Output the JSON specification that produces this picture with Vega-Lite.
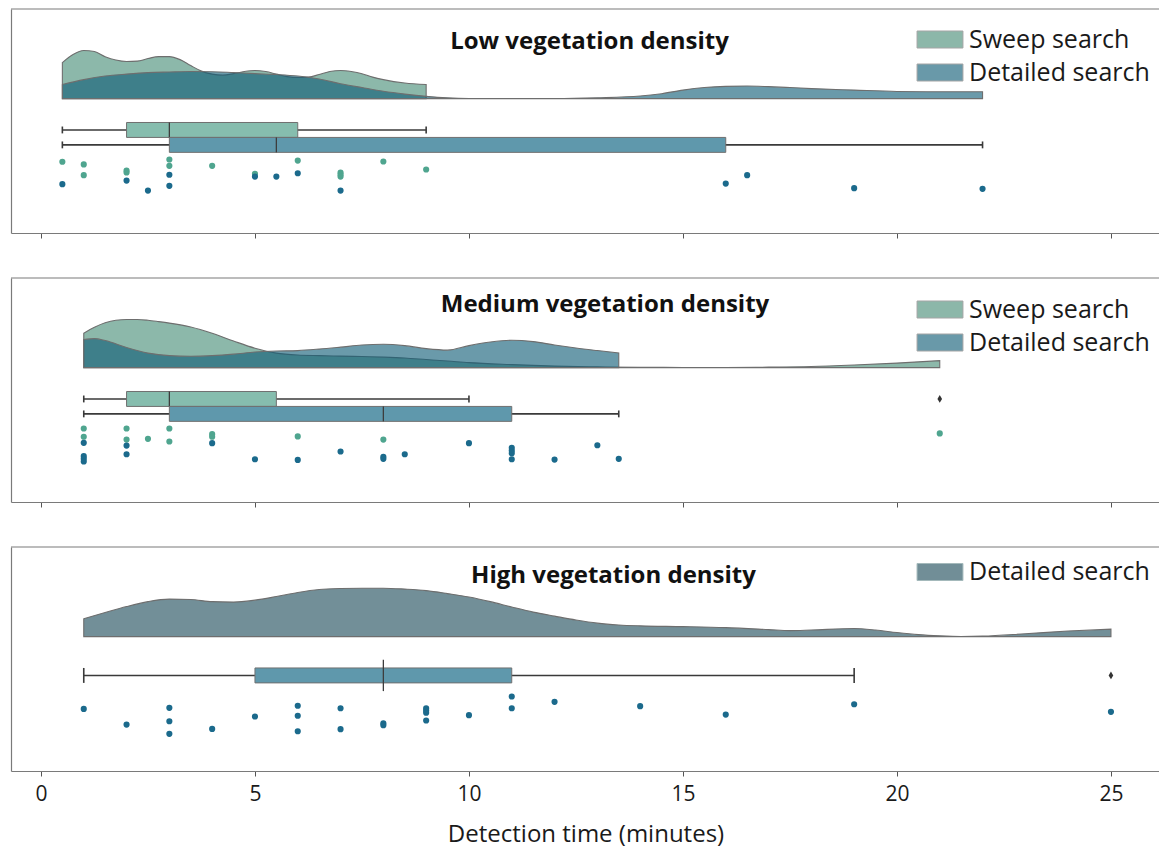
{
  "$schema": "https://vega.github.io/schema/vega-lite/v6.json",
  "padding": {"left": 10, "top": 8, "right": 0, "bottom": 6},
  "spacing": 45,
  "bounds": "flush",
  "config": {
    "font": "Open Sans",
    "view": {"stroke": null},
    "axis": {
      "grid": false,
      "domainColor": "#7a7a7a",
      "domainWidth": 1.2,
      "tickColor": "#555555",
      "tickWidth": 1,
      "tickSize": 5,
      "labelFont": "Open Sans",
      "labelFontSize": 21,
      "labelColor": "#1a1a1a",
      "titleFont": "Open Sans",
      "titleFontSize": 24,
      "titleFontWeight": "normal",
      "titleColor": "#1a1a1a"
    },
    "axisX": {"tickCount": 6},
    "axisY": {"labels": false, "ticks": false}
  },
  "resolve": {
    "scale": {"x": "independent", "y": "independent", "fill": "independent", "color": "independent"},
    "legend": {"fill": "independent", "color": "independent"}
  },
  "datasets": {
    "density": [
      {"veg": "Low", "method": "Sweep search", "t": 0.5, "density": 2.41},
      {"veg": "Low", "method": "Sweep search", "t": 0.75, "density": 2.95},
      {"veg": "Low", "method": "Sweep search", "t": 1, "density": 3.22},
      {"veg": "Low", "method": "Sweep search", "t": 1.25, "density": 3.15},
      {"veg": "Low", "method": "Sweep search", "t": 1.5, "density": 2.81},
      {"veg": "Low", "method": "Sweep search", "t": 1.75, "density": 2.58},
      {"veg": "Low", "method": "Sweep search", "t": 2, "density": 2.48},
      {"veg": "Low", "method": "Sweep search", "t": 2.25, "density": 2.51},
      {"veg": "Low", "method": "Sweep search", "t": 2.5, "density": 2.68},
      {"veg": "Low", "method": "Sweep search", "t": 2.75, "density": 2.81},
      {"veg": "Low", "method": "Sweep search", "t": 3, "density": 2.81},
      {"veg": "Low", "method": "Sweep search", "t": 3.25, "density": 2.61},
      {"veg": "Low", "method": "Sweep search", "t": 3.5, "density": 2.21},
      {"veg": "Low", "method": "Sweep search", "t": 3.75, "density": 1.84},
      {"veg": "Low", "method": "Sweep search", "t": 4, "density": 1.64},
      {"veg": "Low", "method": "Sweep search", "t": 4.25, "density": 1.57},
      {"veg": "Low", "method": "Sweep search", "t": 4.5, "density": 1.67},
      {"veg": "Low", "method": "Sweep search", "t": 4.75, "density": 1.81},
      {"veg": "Low", "method": "Sweep search", "t": 5, "density": 1.88},
      {"veg": "Low", "method": "Sweep search", "t": 5.25, "density": 1.81},
      {"veg": "Low", "method": "Sweep search", "t": 5.5, "density": 1.64},
      {"veg": "Low", "method": "Sweep search", "t": 5.75, "density": 1.47},
      {"veg": "Low", "method": "Sweep search", "t": 6, "density": 1.41},
      {"veg": "Low", "method": "Sweep search", "t": 6.25, "density": 1.44},
      {"veg": "Low", "method": "Sweep search", "t": 6.5, "density": 1.61},
      {"veg": "Low", "method": "Sweep search", "t": 6.75, "density": 1.81},
      {"veg": "Low", "method": "Sweep search", "t": 7, "density": 1.88},
      {"veg": "Low", "method": "Sweep search", "t": 7.25, "density": 1.81},
      {"veg": "Low", "method": "Sweep search", "t": 7.5, "density": 1.67},
      {"veg": "Low", "method": "Sweep search", "t": 7.75, "density": 1.44},
      {"veg": "Low", "method": "Sweep search", "t": 8, "density": 1.27},
      {"veg": "Low", "method": "Sweep search", "t": 8.5, "density": 1.04},
      {"veg": "Low", "method": "Sweep search", "t": 9, "density": 0.94},
      {"veg": "Low", "method": "Detailed search", "t": 0.5, "density": 0.94},
      {"veg": "Low", "method": "Detailed search", "t": 1, "density": 1.27},
      {"veg": "Low", "method": "Detailed search", "t": 1.5, "density": 1.51},
      {"veg": "Low", "method": "Detailed search", "t": 2, "density": 1.64},
      {"veg": "Low", "method": "Detailed search", "t": 2.5, "density": 1.74},
      {"veg": "Low", "method": "Detailed search", "t": 3, "density": 1.78},
      {"veg": "Low", "method": "Detailed search", "t": 3.5, "density": 1.81},
      {"veg": "Low", "method": "Detailed search", "t": 4, "density": 1.8},
      {"veg": "Low", "method": "Detailed search", "t": 4.5, "density": 1.74},
      {"veg": "Low", "method": "Detailed search", "t": 5, "density": 1.67},
      {"veg": "Low", "method": "Detailed search", "t": 5.5, "density": 1.61},
      {"veg": "Low", "method": "Detailed search", "t": 6, "density": 1.51},
      {"veg": "Low", "method": "Detailed search", "t": 6.5, "density": 1.31},
      {"veg": "Low", "method": "Detailed search", "t": 7, "density": 1.0},
      {"veg": "Low", "method": "Detailed search", "t": 7.5, "density": 0.74},
      {"veg": "Low", "method": "Detailed search", "t": 8, "density": 0.49},
      {"veg": "Low", "method": "Detailed search", "t": 8.5, "density": 0.3},
      {"veg": "Low", "method": "Detailed search", "t": 9, "density": 0.15},
      {"veg": "Low", "method": "Detailed search", "t": 9.5, "density": 0.05},
      {"veg": "Low", "method": "Detailed search", "t": 10, "density": 0.01},
      {"veg": "Low", "method": "Detailed search", "t": 11, "density": 0.0},
      {"veg": "Low", "method": "Detailed search", "t": 12, "density": 0.0},
      {"veg": "Low", "method": "Detailed search", "t": 13, "density": 0.05},
      {"veg": "Low", "method": "Detailed search", "t": 14, "density": 0.17},
      {"veg": "Low", "method": "Detailed search", "t": 14.5, "density": 0.33},
      {"veg": "Low", "method": "Detailed search", "t": 15, "density": 0.57},
      {"veg": "Low", "method": "Detailed search", "t": 15.5, "density": 0.74},
      {"veg": "Low", "method": "Detailed search", "t": 16, "density": 0.82},
      {"veg": "Low", "method": "Detailed search", "t": 16.5, "density": 0.84},
      {"veg": "Low", "method": "Detailed search", "t": 17, "density": 0.8},
      {"veg": "Low", "method": "Detailed search", "t": 17.5, "density": 0.74},
      {"veg": "Low", "method": "Detailed search", "t": 18, "density": 0.67},
      {"veg": "Low", "method": "Detailed search", "t": 19, "density": 0.57},
      {"veg": "Low", "method": "Detailed search", "t": 20, "density": 0.48},
      {"veg": "Low", "method": "Detailed search", "t": 21, "density": 0.46},
      {"veg": "Low", "method": "Detailed search", "t": 22, "density": 0.46},
      {"veg": "Medium", "method": "Sweep search", "t": 1, "density": 2.3},
      {"veg": "Medium", "method": "Sweep search", "t": 1.25, "density": 2.7},
      {"veg": "Medium", "method": "Sweep search", "t": 1.5, "density": 3.0},
      {"veg": "Medium", "method": "Sweep search", "t": 1.75, "density": 3.17},
      {"veg": "Medium", "method": "Sweep search", "t": 2, "density": 3.22},
      {"veg": "Medium", "method": "Sweep search", "t": 2.25, "density": 3.22},
      {"veg": "Medium", "method": "Sweep search", "t": 2.5, "density": 3.17},
      {"veg": "Medium", "method": "Sweep search", "t": 2.75, "density": 3.08},
      {"veg": "Medium", "method": "Sweep search", "t": 3, "density": 2.98},
      {"veg": "Medium", "method": "Sweep search", "t": 3.5, "density": 2.72},
      {"veg": "Medium", "method": "Sweep search", "t": 4, "density": 2.3},
      {"veg": "Medium", "method": "Sweep search", "t": 4.5, "density": 1.78},
      {"veg": "Medium", "method": "Sweep search", "t": 5, "density": 1.3},
      {"veg": "Medium", "method": "Sweep search", "t": 5.5, "density": 0.97},
      {"veg": "Medium", "method": "Sweep search", "t": 6, "density": 0.84},
      {"veg": "Medium", "method": "Sweep search", "t": 6.5, "density": 0.8},
      {"veg": "Medium", "method": "Sweep search", "t": 7, "density": 0.77},
      {"veg": "Medium", "method": "Sweep search", "t": 7.5, "density": 0.74},
      {"veg": "Medium", "method": "Sweep search", "t": 8, "density": 0.7},
      {"veg": "Medium", "method": "Sweep search", "t": 8.5, "density": 0.64},
      {"veg": "Medium", "method": "Sweep search", "t": 9, "density": 0.54},
      {"veg": "Medium", "method": "Sweep search", "t": 9.5, "density": 0.44},
      {"veg": "Medium", "method": "Sweep search", "t": 10, "density": 0.33},
      {"veg": "Medium", "method": "Sweep search", "t": 11, "density": 0.2},
      {"veg": "Medium", "method": "Sweep search", "t": 12, "density": 0.1},
      {"veg": "Medium", "method": "Sweep search", "t": 13, "density": 0.05},
      {"veg": "Medium", "method": "Sweep search", "t": 14, "density": 0.02},
      {"veg": "Medium", "method": "Sweep search", "t": 15, "density": 0.01},
      {"veg": "Medium", "method": "Sweep search", "t": 16, "density": 0.01},
      {"veg": "Medium", "method": "Sweep search", "t": 17, "density": 0.03},
      {"veg": "Medium", "method": "Sweep search", "t": 18, "density": 0.07},
      {"veg": "Medium", "method": "Sweep search", "t": 19, "density": 0.17},
      {"veg": "Medium", "method": "Sweep search", "t": 20, "density": 0.3},
      {"veg": "Medium", "method": "Sweep search", "t": 21, "density": 0.47},
      {"veg": "Medium", "method": "Detailed search", "t": 1, "density": 1.88},
      {"veg": "Medium", "method": "Detailed search", "t": 1.25, "density": 1.94},
      {"veg": "Medium", "method": "Detailed search", "t": 1.5, "density": 1.81},
      {"veg": "Medium", "method": "Detailed search", "t": 2, "density": 1.34},
      {"veg": "Medium", "method": "Detailed search", "t": 2.5, "density": 0.97},
      {"veg": "Medium", "method": "Detailed search", "t": 3, "density": 0.8},
      {"veg": "Medium", "method": "Detailed search", "t": 3.5, "density": 0.76},
      {"veg": "Medium", "method": "Detailed search", "t": 4, "density": 0.8},
      {"veg": "Medium", "method": "Detailed search", "t": 4.5, "density": 0.9},
      {"veg": "Medium", "method": "Detailed search", "t": 5, "density": 1.04},
      {"veg": "Medium", "method": "Detailed search", "t": 5.5, "density": 1.11},
      {"veg": "Medium", "method": "Detailed search", "t": 6, "density": 1.14},
      {"veg": "Medium", "method": "Detailed search", "t": 6.5, "density": 1.24},
      {"veg": "Medium", "method": "Detailed search", "t": 7, "density": 1.37},
      {"veg": "Medium", "method": "Detailed search", "t": 7.5, "density": 1.51},
      {"veg": "Medium", "method": "Detailed search", "t": 8, "density": 1.56},
      {"veg": "Medium", "method": "Detailed search", "t": 8.5, "density": 1.47},
      {"veg": "Medium", "method": "Detailed search", "t": 9, "density": 1.27},
      {"veg": "Medium", "method": "Detailed search", "t": 9.5, "density": 1.17},
      {"veg": "Medium", "method": "Detailed search", "t": 10, "density": 1.47},
      {"veg": "Medium", "method": "Detailed search", "t": 10.5, "density": 1.71},
      {"veg": "Medium", "method": "Detailed search", "t": 11, "density": 1.83},
      {"veg": "Medium", "method": "Detailed search", "t": 11.5, "density": 1.74},
      {"veg": "Medium", "method": "Detailed search", "t": 12, "density": 1.51},
      {"veg": "Medium", "method": "Detailed search", "t": 12.5, "density": 1.31},
      {"veg": "Medium", "method": "Detailed search", "t": 13, "density": 1.14},
      {"veg": "Medium", "method": "Detailed search", "t": 13.5, "density": 0.98},
      {"veg": "High", "method": "Detailed search", "t": 1, "density": 1.19},
      {"veg": "High", "method": "Detailed search", "t": 1.5, "density": 1.61},
      {"veg": "High", "method": "Detailed search", "t": 2, "density": 2.01},
      {"veg": "High", "method": "Detailed search", "t": 2.5, "density": 2.34},
      {"veg": "High", "method": "Detailed search", "t": 3, "density": 2.51},
      {"veg": "High", "method": "Detailed search", "t": 3.5, "density": 2.48},
      {"veg": "High", "method": "Detailed search", "t": 4, "density": 2.34},
      {"veg": "High", "method": "Detailed search", "t": 4.5, "density": 2.31},
      {"veg": "High", "method": "Detailed search", "t": 5, "density": 2.44},
      {"veg": "High", "method": "Detailed search", "t": 5.5, "density": 2.68},
      {"veg": "High", "method": "Detailed search", "t": 6, "density": 2.95},
      {"veg": "High", "method": "Detailed search", "t": 6.5, "density": 3.15},
      {"veg": "High", "method": "Detailed search", "t": 7, "density": 3.22},
      {"veg": "High", "method": "Detailed search", "t": 7.5, "density": 3.24},
      {"veg": "High", "method": "Detailed search", "t": 8, "density": 3.24},
      {"veg": "High", "method": "Detailed search", "t": 8.5, "density": 3.18},
      {"veg": "High", "method": "Detailed search", "t": 9, "density": 3.08},
      {"veg": "High", "method": "Detailed search", "t": 9.5, "density": 2.88},
      {"veg": "High", "method": "Detailed search", "t": 10, "density": 2.65},
      {"veg": "High", "method": "Detailed search", "t": 10.5, "density": 2.34},
      {"veg": "High", "method": "Detailed search", "t": 11, "density": 1.98},
      {"veg": "High", "method": "Detailed search", "t": 11.5, "density": 1.64},
      {"veg": "High", "method": "Detailed search", "t": 12, "density": 1.37},
      {"veg": "High", "method": "Detailed search", "t": 12.5, "density": 1.11},
      {"veg": "High", "method": "Detailed search", "t": 13, "density": 0.9},
      {"veg": "High", "method": "Detailed search", "t": 13.5, "density": 0.78},
      {"veg": "High", "method": "Detailed search", "t": 14, "density": 0.72},
      {"veg": "High", "method": "Detailed search", "t": 15, "density": 0.67},
      {"veg": "High", "method": "Detailed search", "t": 16, "density": 0.6},
      {"veg": "High", "method": "Detailed search", "t": 17, "density": 0.47},
      {"veg": "High", "method": "Detailed search", "t": 17.5, "density": 0.4},
      {"veg": "High", "method": "Detailed search", "t": 18, "density": 0.44},
      {"veg": "High", "method": "Detailed search", "t": 19, "density": 0.54},
      {"veg": "High", "method": "Detailed search", "t": 19.5, "density": 0.44},
      {"veg": "High", "method": "Detailed search", "t": 20, "density": 0.27},
      {"veg": "High", "method": "Detailed search", "t": 20.5, "density": 0.13},
      {"veg": "High", "method": "Detailed search", "t": 21, "density": 0.05},
      {"veg": "High", "method": "Detailed search", "t": 21.5, "density": 0.01},
      {"veg": "High", "method": "Detailed search", "t": 22, "density": 0.03},
      {"veg": "High", "method": "Detailed search", "t": 23, "density": 0.19},
      {"veg": "High", "method": "Detailed search", "t": 24, "density": 0.37},
      {"veg": "High", "method": "Detailed search", "t": 25, "density": 0.5}
    ],
    "boxes": [
      {"veg": "Low", "method": "Sweep search", "lo": 0.5, "q1": 2, "med": 3, "q3": 6, "hi": 9},
      {"veg": "Low", "method": "Detailed search", "lo": 0.5, "q1": 3, "med": 5.5, "q3": 16, "hi": 22},
      {"veg": "Medium", "method": "Sweep search", "lo": 1, "q1": 2, "med": 3, "q3": 5.5, "hi": 10},
      {"veg": "Medium", "method": "Detailed search", "lo": 1, "q1": 3, "med": 8, "q3": 11, "hi": 13.5},
      {"veg": "High", "method": "Detailed search", "lo": 1, "q1": 5, "med": 8, "q3": 11, "hi": 19}
    ],
    "outliers": [
      {"veg": "Medium", "method": "Sweep search", "time": 21},
      {"veg": "High", "method": "Detailed search", "time": 25}
    ],
    "points": [
      {"veg": "Low", "method": "Sweep search", "time": 0.5, "jitter": -4.23},
      {"veg": "Low", "method": "Sweep search", "time": 1, "jitter": -4.41},
      {"veg": "Low", "method": "Sweep search", "time": 1, "jitter": -5.13},
      {"veg": "Low", "method": "Sweep search", "time": 2, "jitter": -4.82},
      {"veg": "Low", "method": "Sweep search", "time": 2, "jitter": -4.95},
      {"veg": "Low", "method": "Sweep search", "time": 3, "jitter": -4.08},
      {"veg": "Low", "method": "Sweep search", "time": 3, "jitter": -4.5},
      {"veg": "Low", "method": "Sweep search", "time": 4, "jitter": -4.5},
      {"veg": "Low", "method": "Sweep search", "time": 5, "jitter": -5.04},
      {"veg": "Low", "method": "Sweep search", "time": 6, "jitter": -4.15},
      {"veg": "Low", "method": "Sweep search", "time": 7, "jitter": -4.95},
      {"veg": "Low", "method": "Sweep search", "time": 7, "jitter": -5.08},
      {"veg": "Low", "method": "Sweep search", "time": 7, "jitter": -5.22},
      {"veg": "Low", "method": "Sweep search", "time": 8, "jitter": -4.21},
      {"veg": "Low", "method": "Sweep search", "time": 9, "jitter": -4.75},
      {"veg": "Low", "method": "Detailed search", "time": 0.5, "jitter": -5.73},
      {"veg": "Low", "method": "Detailed search", "time": 2, "jitter": -5.49},
      {"veg": "Low", "method": "Detailed search", "time": 2.5, "jitter": -6.16},
      {"veg": "Low", "method": "Detailed search", "time": 3, "jitter": -5.1},
      {"veg": "Low", "method": "Detailed search", "time": 3, "jitter": -5.84},
      {"veg": "Low", "method": "Detailed search", "time": 5, "jitter": -5.22},
      {"veg": "Low", "method": "Detailed search", "time": 5.5, "jitter": -5.22},
      {"veg": "Low", "method": "Detailed search", "time": 6, "jitter": -5.0},
      {"veg": "Low", "method": "Detailed search", "time": 7, "jitter": -6.16},
      {"veg": "Low", "method": "Detailed search", "time": 16, "jitter": -5.69},
      {"veg": "Low", "method": "Detailed search", "time": 16.5, "jitter": -5.13},
      {"veg": "Low", "method": "Detailed search", "time": 19, "jitter": -6.0},
      {"veg": "Low", "method": "Detailed search", "time": 22, "jitter": -6.04},
      {"veg": "Medium", "method": "Sweep search", "time": 1, "jitter": -4.08},
      {"veg": "Medium", "method": "Sweep search", "time": 1, "jitter": -4.63},
      {"veg": "Medium", "method": "Sweep search", "time": 2, "jitter": -4.08},
      {"veg": "Medium", "method": "Sweep search", "time": 2, "jitter": -4.82},
      {"veg": "Medium", "method": "Sweep search", "time": 2.5, "jitter": -4.77},
      {"veg": "Medium", "method": "Sweep search", "time": 3, "jitter": -4.08},
      {"veg": "Medium", "method": "Sweep search", "time": 3, "jitter": -4.95},
      {"veg": "Medium", "method": "Sweep search", "time": 4, "jitter": -4.46},
      {"veg": "Medium", "method": "Sweep search", "time": 4, "jitter": -4.63},
      {"veg": "Medium", "method": "Sweep search", "time": 6, "jitter": -4.61},
      {"veg": "Medium", "method": "Sweep search", "time": 8, "jitter": -4.82},
      {"veg": "Medium", "method": "Sweep search", "time": 21, "jitter": -4.41},
      {"veg": "Medium", "method": "Detailed search", "time": 1, "jitter": -5.04},
      {"veg": "Medium", "method": "Detailed search", "time": 1, "jitter": -5.93},
      {"veg": "Medium", "method": "Detailed search", "time": 1, "jitter": -6.11},
      {"veg": "Medium", "method": "Detailed search", "time": 1, "jitter": -6.29},
      {"veg": "Medium", "method": "Detailed search", "time": 2, "jitter": -5.22},
      {"veg": "Medium", "method": "Detailed search", "time": 2, "jitter": -5.8},
      {"veg": "Medium", "method": "Detailed search", "time": 4, "jitter": -5.06},
      {"veg": "Medium", "method": "Detailed search", "time": 5, "jitter": -6.14},
      {"veg": "Medium", "method": "Detailed search", "time": 6, "jitter": -6.18},
      {"veg": "Medium", "method": "Detailed search", "time": 7, "jitter": -5.62},
      {"veg": "Medium", "method": "Detailed search", "time": 8, "jitter": -5.97},
      {"veg": "Medium", "method": "Detailed search", "time": 8, "jitter": -6.11},
      {"veg": "Medium", "method": "Detailed search", "time": 8.5, "jitter": -5.8},
      {"veg": "Medium", "method": "Detailed search", "time": 10, "jitter": -5.06},
      {"veg": "Medium", "method": "Detailed search", "time": 11, "jitter": -5.37},
      {"veg": "Medium", "method": "Detailed search", "time": 11, "jitter": -5.55},
      {"veg": "Medium", "method": "Detailed search", "time": 11, "jitter": -5.73},
      {"veg": "Medium", "method": "Detailed search", "time": 11, "jitter": -6.14},
      {"veg": "Medium", "method": "Detailed search", "time": 12, "jitter": -6.16},
      {"veg": "Medium", "method": "Detailed search", "time": 13, "jitter": -5.2},
      {"veg": "Medium", "method": "Detailed search", "time": 13.5, "jitter": -6.11},
      {"veg": "High", "method": "Detailed search", "time": 1, "jitter": -4.84},
      {"veg": "High", "method": "Detailed search", "time": 2, "jitter": -5.89},
      {"veg": "High", "method": "Detailed search", "time": 3, "jitter": -4.77},
      {"veg": "High", "method": "Detailed search", "time": 3, "jitter": -5.67},
      {"veg": "High", "method": "Detailed search", "time": 3, "jitter": -6.51},
      {"veg": "High", "method": "Detailed search", "time": 4, "jitter": -6.18},
      {"veg": "High", "method": "Detailed search", "time": 5, "jitter": -5.35},
      {"veg": "High", "method": "Detailed search", "time": 6, "jitter": -4.63},
      {"veg": "High", "method": "Detailed search", "time": 6, "jitter": -5.3},
      {"veg": "High", "method": "Detailed search", "time": 6, "jitter": -6.34},
      {"veg": "High", "method": "Detailed search", "time": 7, "jitter": -4.8},
      {"veg": "High", "method": "Detailed search", "time": 7, "jitter": -6.2},
      {"veg": "High", "method": "Detailed search", "time": 8, "jitter": -5.8},
      {"veg": "High", "method": "Detailed search", "time": 8, "jitter": -5.93},
      {"veg": "High", "method": "Detailed search", "time": 9, "jitter": -4.8},
      {"veg": "High", "method": "Detailed search", "time": 9, "jitter": -4.95},
      {"veg": "High", "method": "Detailed search", "time": 9, "jitter": -5.1},
      {"veg": "High", "method": "Detailed search", "time": 9, "jitter": -5.62},
      {"veg": "High", "method": "Detailed search", "time": 10, "jitter": -5.26},
      {"veg": "High", "method": "Detailed search", "time": 11, "jitter": -4.01},
      {"veg": "High", "method": "Detailed search", "time": 11, "jitter": -4.8},
      {"veg": "High", "method": "Detailed search", "time": 12, "jitter": -4.37},
      {"veg": "High", "method": "Detailed search", "time": 14, "jitter": -4.66},
      {"veg": "High", "method": "Detailed search", "time": 16, "jitter": -5.22},
      {"veg": "High", "method": "Detailed search", "time": 19, "jitter": -4.53},
      {"veg": "High", "method": "Detailed search", "time": 25, "jitter": -5.04}
    ]
  },
  "vconcat": [
    {
      "width": 1149,
      "height": 224,
      "title": {"text": "Low vegetation density", "anchor": "middle", "frame": "group", "orient": "top", "offset": -58, "baseline": "middle", "dx": 4, "fontSize": 24, "fontWeight": "bold", "font": "Open Sans", "color": "#111111"},
      "layer": [
        {
          "data": {"name": "density"},
          "transform": [{"filter": "datum.veg === 'Low' && datum.method === 'Sweep search'"}],
          "mark": {"type": "area", "interpolate": "monotone", "fillOpacity": 0.62, "stroke": "#6e6e6e", "strokeWidth": 1.1},
          "encoding": {
            "x": {"field": "t", "type": "quantitative", "title": null, "scale": {"domain": [-0.7, 26.146], "nice": false, "zero": false}, "axis": {"labels": false, "values": [0, 5, 10, 15, 20, 25]}},
            "y": {"field": "density", "type": "quantitative", "title": null, "scale": {"domain": [-9, 6], "nice": false, "zero": false}},
            "y2": {"datum": 0},
            "fill": {"field": "method", "type": "nominal", "scale": {"domain": ["Sweep search", "Detailed search"], "range": ["#468c76", "#0f5c76"]},
              "legend": {"orient": "none", "legendX": 916.5, "legendY": 18, "title": null, "symbolType": "M-2.7,-1H2.7V1H-2.7Z", "symbolSize": 289, "symbolOpacity": 0.62, "symbolStrokeColor": "#6e8f92", "symbolStrokeWidth": 1, "labelFont": "Open Sans", "labelFontSize": 25, "labelColor": "#1a1a1a", "labelOffset": 16.5, "labelLimit": 400, "rowPadding": 7, "padding": 0}}
          }
        },
        {
          "data": {"name": "density"},
          "transform": [{"filter": "datum.veg === 'Low' && datum.method === 'Detailed search'"}],
          "mark": {"type": "area", "interpolate": "monotone", "fillOpacity": 0.62, "stroke": "#6e6e6e", "strokeWidth": 1.1},
          "encoding": {
            "x": {"field": "t", "type": "quantitative", "title": null},
            "y": {"field": "density", "type": "quantitative", "title": null},
            "y2": {"datum": 0},
            "fill": {"field": "method", "type": "nominal"}
          }
        },
        {
          "data": {"values": [{}]},
          "mark": {"type": "rule", "color": "#7a7a7a", "strokeWidth": 1.2},
          "encoding": {"x": {"datum": -0.7, "title": null}, "x2": {"datum": 26.146}, "y": {"datum": 6, "title": null}}
        },
        {
          "data": {"name": "boxes"},
          "transform": [{"filter": "datum.veg === 'Low' && datum.method === 'Sweep search'"}],
          "layer": [
            {"mark": {"type": "rule", "color": "#3a3a3a", "strokeWidth": 1.6}, "encoding": {"x": {"field": "lo", "type": "quantitative", "title": null}, "x2": {"field": "hi"}, "y": {"datum": -2.1, "title": null}}},
            {"transform": [{"fold": ["lo", "hi"], "as": ["end", "v"]}], "mark": {"type": "rule", "color": "#3a3a3a", "strokeWidth": 1.6}, "encoding": {"x": {"field": "v", "type": "quantitative", "title": null}, "y": {"datum": -1.87, "title": null}, "y2": {"datum": -2.33}}},
            {"mark": {"type": "rect", "fill": "#86bdae", "stroke": "#707070", "strokeWidth": 1}, "encoding": {"x": {"field": "q1", "type": "quantitative", "title": null}, "x2": {"field": "q3"}, "y": {"datum": -1.6, "title": null}, "y2": {"datum": -2.6}}},
            {"mark": {"type": "rule", "color": "#3d3d3d", "strokeWidth": 1.3}, "encoding": {"x": {"field": "med", "type": "quantitative", "title": null}, "y": {"datum": -1.6, "title": null}, "y2": {"datum": -2.6}}}
          ]
        },
        {
          "data": {"name": "boxes"},
          "transform": [{"filter": "datum.veg === 'Low' && datum.method === 'Detailed search'"}],
          "layer": [
            {"mark": {"type": "rule", "color": "#3a3a3a", "strokeWidth": 1.6}, "encoding": {"x": {"field": "lo", "type": "quantitative", "title": null}, "x2": {"field": "hi"}, "y": {"datum": -3.1, "title": null}}},
            {"transform": [{"fold": ["lo", "hi"], "as": ["end", "v"]}], "mark": {"type": "rule", "color": "#3a3a3a", "strokeWidth": 1.6}, "encoding": {"x": {"field": "v", "type": "quantitative", "title": null}, "y": {"datum": -2.87, "title": null}, "y2": {"datum": -3.33}}},
            {"mark": {"type": "rect", "fill": "#5f98ac", "stroke": "#707070", "strokeWidth": 1}, "encoding": {"x": {"field": "q1", "type": "quantitative", "title": null}, "x2": {"field": "q3"}, "y": {"datum": -2.6, "title": null}, "y2": {"datum": -3.6}}},
            {"mark": {"type": "rule", "color": "#3d3d3d", "strokeWidth": 1.3}, "encoding": {"x": {"field": "med", "type": "quantitative", "title": null}, "y": {"datum": -2.6, "title": null}, "y2": {"datum": -3.6}}}
          ]
        },
        {
          "data": {"name": "points"},
          "transform": [{"filter": "datum.veg === 'Low'"}],
          "mark": {"type": "circle", "size": 38, "opacity": 1},
          "encoding": {
            "x": {"field": "time", "type": "quantitative", "title": null},
            "y": {"field": "jitter", "type": "quantitative", "title": null},
            "color": {"field": "method", "type": "nominal", "scale": {"domain": ["Sweep search", "Detailed search"], "range": ["#4fa58f", "#1b6a8c"]}, "legend": null}
          }
        }
      ]
    },
    {
      "width": 1149,
      "height": 224,
      "title": {"text": "Medium vegetation density", "anchor": "middle", "frame": "group", "orient": "top", "offset": -52, "baseline": "middle", "dx": 19.5, "fontSize": 24, "fontWeight": "bold", "font": "Open Sans", "color": "#111111"},
      "layer": [
        {
          "data": {"name": "density"},
          "transform": [{"filter": "datum.veg === 'Medium' && datum.method === 'Sweep search'"}],
          "mark": {"type": "area", "interpolate": "monotone", "fillOpacity": 0.62, "stroke": "#6e6e6e", "strokeWidth": 1.1},
          "encoding": {
            "x": {"field": "t", "type": "quantitative", "title": null, "scale": {"domain": [-0.7, 26.146], "nice": false, "zero": false}, "axis": {"labels": false, "values": [0, 5, 10, 15, 20, 25]}},
            "y": {"field": "density", "type": "quantitative", "title": null, "scale": {"domain": [-9, 6], "nice": false, "zero": false}},
            "y2": {"datum": 0},
            "fill": {"field": "method", "type": "nominal", "scale": {"domain": ["Sweep search", "Detailed search"], "range": ["#468c76", "#0f5c76"]},
              "legend": {"orient": "none", "legendX": 916.5, "legendY": 19, "title": null, "symbolType": "M-2.7,-1H2.7V1H-2.7Z", "symbolSize": 289, "symbolOpacity": 0.62, "symbolStrokeColor": "#6e8f92", "symbolStrokeWidth": 1, "labelFont": "Open Sans", "labelFontSize": 25, "labelColor": "#1a1a1a", "labelOffset": 16.5, "labelLimit": 400, "rowPadding": 7, "padding": 0}}
          }
        },
        {
          "data": {"name": "density"},
          "transform": [{"filter": "datum.veg === 'Medium' && datum.method === 'Detailed search'"}],
          "mark": {"type": "area", "interpolate": "monotone", "fillOpacity": 0.62, "stroke": "#6e6e6e", "strokeWidth": 1.1},
          "encoding": {
            "x": {"field": "t", "type": "quantitative", "title": null},
            "y": {"field": "density", "type": "quantitative", "title": null},
            "y2": {"datum": 0},
            "fill": {"field": "method", "type": "nominal"}
          }
        },
        {
          "data": {"values": [{}]},
          "mark": {"type": "rule", "color": "#7a7a7a", "strokeWidth": 1.2},
          "encoding": {"x": {"datum": -0.7, "title": null}, "x2": {"datum": 26.146}, "y": {"datum": 6, "title": null}}
        },
        {
          "data": {"name": "boxes"},
          "transform": [{"filter": "datum.veg === 'Medium' && datum.method === 'Sweep search'"}],
          "layer": [
            {"mark": {"type": "rule", "color": "#3a3a3a", "strokeWidth": 1.6}, "encoding": {"x": {"field": "lo", "type": "quantitative", "title": null}, "x2": {"field": "hi"}, "y": {"datum": -2.1, "title": null}}},
            {"transform": [{"fold": ["lo", "hi"], "as": ["end", "v"]}], "mark": {"type": "rule", "color": "#3a3a3a", "strokeWidth": 1.6}, "encoding": {"x": {"field": "v", "type": "quantitative", "title": null}, "y": {"datum": -1.87, "title": null}, "y2": {"datum": -2.33}}},
            {"mark": {"type": "rect", "fill": "#86bdae", "stroke": "#707070", "strokeWidth": 1}, "encoding": {"x": {"field": "q1", "type": "quantitative", "title": null}, "x2": {"field": "q3"}, "y": {"datum": -1.6, "title": null}, "y2": {"datum": -2.6}}},
            {"mark": {"type": "rule", "color": "#3d3d3d", "strokeWidth": 1.3}, "encoding": {"x": {"field": "med", "type": "quantitative", "title": null}, "y": {"datum": -1.6, "title": null}, "y2": {"datum": -2.6}}}
          ]
        },
        {
          "data": {"name": "boxes"},
          "transform": [{"filter": "datum.veg === 'Medium' && datum.method === 'Detailed search'"}],
          "layer": [
            {"mark": {"type": "rule", "color": "#3a3a3a", "strokeWidth": 1.6}, "encoding": {"x": {"field": "lo", "type": "quantitative", "title": null}, "x2": {"field": "hi"}, "y": {"datum": -3.1, "title": null}}},
            {"transform": [{"fold": ["lo", "hi"], "as": ["end", "v"]}], "mark": {"type": "rule", "color": "#3a3a3a", "strokeWidth": 1.6}, "encoding": {"x": {"field": "v", "type": "quantitative", "title": null}, "y": {"datum": -2.87, "title": null}, "y2": {"datum": -3.33}}},
            {"mark": {"type": "rect", "fill": "#5f98ac", "stroke": "#707070", "strokeWidth": 1}, "encoding": {"x": {"field": "q1", "type": "quantitative", "title": null}, "x2": {"field": "q3"}, "y": {"datum": -2.6, "title": null}, "y2": {"datum": -3.6}}},
            {"mark": {"type": "rule", "color": "#3d3d3d", "strokeWidth": 1.3}, "encoding": {"x": {"field": "med", "type": "quantitative", "title": null}, "y": {"datum": -2.6, "title": null}, "y2": {"datum": -3.6}}}
          ]
        },
        {
          "data": {"name": "outliers"},
          "transform": [{"filter": "datum.veg === 'Medium'"}],
          "mark": {"type": "point", "shape": "M0,-1L0.6,0L0,1L-0.6,0Z", "filled": true, "size": 60, "color": "#333333", "opacity": 1},
          "encoding": {"x": {"field": "time", "type": "quantitative", "title": null}, "y": {"datum": -2.1, "title": null}}
        },
        {
          "data": {"name": "points"},
          "transform": [{"filter": "datum.veg === 'Medium'"}],
          "mark": {"type": "circle", "size": 38, "opacity": 1},
          "encoding": {
            "x": {"field": "time", "type": "quantitative", "title": null},
            "y": {"field": "jitter", "type": "quantitative", "title": null},
            "color": {"field": "method", "type": "nominal", "scale": {"domain": ["Sweep search", "Detailed search"], "range": ["#4fa58f", "#1b6a8c"]}, "legend": null}
          }
        }
      ]
    },
    {
      "width": 1149,
      "height": 224,
      "title": {"text": "High vegetation density", "anchor": "middle", "frame": "group", "orient": "top", "offset": -54, "baseline": "middle", "dx": 28, "fontSize": 24, "fontWeight": "bold", "font": "Open Sans", "color": "#111111"},
      "layer": [
        {
          "data": {"name": "density"},
          "transform": [{"filter": "datum.veg === 'High'"}],
          "mark": {"type": "area", "interpolate": "monotone", "fillOpacity": 0.62, "stroke": "#6e6e6e", "strokeWidth": 1.1},
          "encoding": {
            "x": {"field": "t", "type": "quantitative", "title": "Detection time (minutes)", "scale": {"domain": [-0.7, 26.146], "nice": false, "zero": false}, "axis": {"values": [0, 5, 10, 15, 20, 25], "labelPadding": 7, "titlePadding": 18}},
            "y": {"field": "density", "type": "quantitative", "title": null, "scale": {"domain": [-9, 6], "nice": false, "zero": false}},
            "y2": {"datum": 0},
            "fill": {"field": "method", "type": "nominal", "scale": {"domain": ["Detailed search"], "range": ["#1b4a59"]},
              "legend": {"orient": "none", "legendX": 916.5, "legendY": 12.5, "title": null, "symbolType": "M-2.7,-1H2.7V1H-2.7Z", "symbolSize": 289, "symbolOpacity": 0.62, "symbolStrokeColor": "#6e8f92", "symbolStrokeWidth": 1, "labelFont": "Open Sans", "labelFontSize": 25, "labelColor": "#1a1a1a", "labelOffset": 16.5, "labelLimit": 400, "rowPadding": 7, "padding": 0}}
          }
        },
        {
          "data": {"values": [{}]},
          "mark": {"type": "rule", "color": "#7a7a7a", "strokeWidth": 1.2},
          "encoding": {"x": {"datum": -0.7, "title": "Detection time (minutes)"}, "x2": {"datum": 26.146}, "y": {"datum": 6, "title": null}}
        },
        {
          "data": {"name": "boxes"},
          "transform": [{"filter": "datum.veg === 'High'"}],
          "layer": [
            {"mark": {"type": "rule", "color": "#3a3a3a", "strokeWidth": 1.6}, "encoding": {"x": {"field": "lo", "type": "quantitative", "title": "Detection time (minutes)"}, "x2": {"field": "hi"}, "y": {"datum": -2.6, "title": null}}},
            {"transform": [{"fold": ["lo", "hi"], "as": ["end", "v"]}], "mark": {"type": "rule", "color": "#3a3a3a", "strokeWidth": 1.6}, "encoding": {"x": {"field": "v", "type": "quantitative", "title": "Detection time (minutes)"}, "y": {"datum": -2.1, "title": null}, "y2": {"datum": -3.1}}},
            {"mark": {"type": "rect", "fill": "#5f98ac", "stroke": "#707070", "strokeWidth": 1}, "encoding": {"x": {"field": "q1", "type": "quantitative", "title": "Detection time (minutes)"}, "x2": {"field": "q3"}, "y": {"datum": -2.1, "title": null}, "y2": {"datum": -3.1}}},
            {"mark": {"type": "rule", "color": "#3d3d3d", "strokeWidth": 1.3}, "encoding": {"x": {"field": "med", "type": "quantitative", "title": "Detection time (minutes)"}, "y": {"datum": -1.55, "title": null}, "y2": {"datum": -3.65}}}
          ]
        },
        {
          "data": {"name": "outliers"},
          "transform": [{"filter": "datum.veg === 'High'"}],
          "mark": {"type": "point", "shape": "M0,-1L0.6,0L0,1L-0.6,0Z", "filled": true, "size": 60, "color": "#333333", "opacity": 1},
          "encoding": {"x": {"field": "time", "type": "quantitative", "title": "Detection time (minutes)"}, "y": {"datum": -2.6, "title": null}}
        },
        {
          "data": {"name": "points"},
          "transform": [{"filter": "datum.veg === 'High'"}],
          "mark": {"type": "circle", "size": 38, "opacity": 1},
          "encoding": {
            "x": {"field": "time", "type": "quantitative", "title": "Detection time (minutes)"},
            "y": {"field": "jitter", "type": "quantitative", "title": null},
            "color": {"field": "method", "type": "nominal", "scale": {"domain": ["Detailed search"], "range": ["#1b6a8c"]}, "legend": null}
          }
        }
      ]
    }
  ]
}
